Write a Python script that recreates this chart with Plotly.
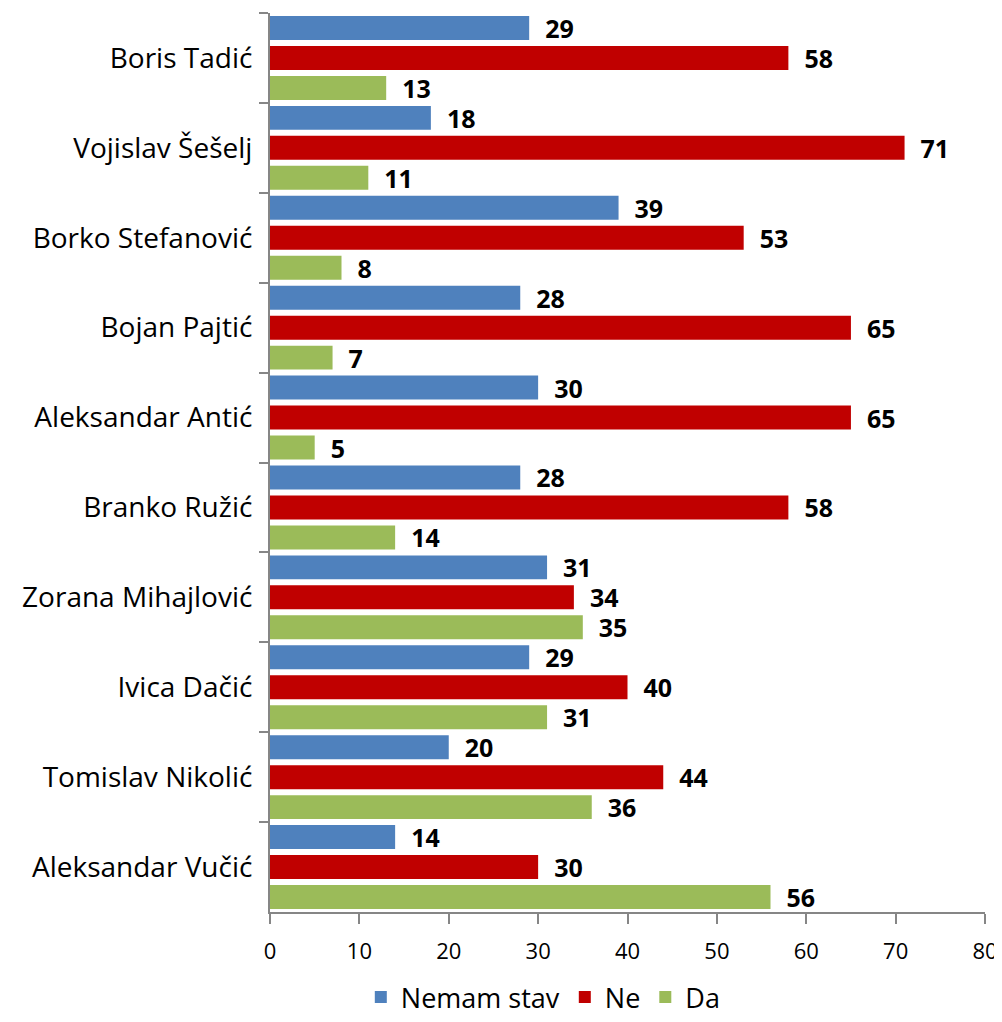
import plotly.graph_objects as go

candidates = ["Boris Tadić", "Vojislav Šešelj", "Borko Stefanović", "Bojan Pajtić",
              "Aleksandar Antić", "Branko Ružić", "Zorana Mihajlović", "Ivica Dačić",
              "Tomislav Nikolić", "Aleksandar Vučić"]
nemam_stav = [29, 18, 39, 28, 30, 28, 31, 29, 20, 14]
ne = [58, 71, 53, 65, 65, 58, 34, 40, 44, 30]
da = [13, 11, 8, 7, 5, 14, 35, 31, 36, 56]

series = [("Nemam stav", nemam_stav, "#4F81BD"),
          ("Ne", ne, "#C00000"),
          ("Da", da, "#9BBB59")]

fig = go.Figure()
for name, vals, color in series:
    fig.add_trace(go.Bar(
        y=candidates, x=vals, name=name, orientation="h",
        marker=dict(color=color, line=dict(width=0)),
        texttemplate="\u00a0\u00a0%{x}", textposition="outside",
        constraintext="none",
        textfont=dict(size=25, color="black", family="Open Sans", weight="bold"),
        cliponaxis=False,
    ))

# page body has an 8px default margin, so the figure is sized to fit
fig.update_layout(
    barmode="group", bargap=0.0, bargroupgap=0.2,
    width=994, height=1014,
    margin=dict(l=262, r=17, t=5, b=110),
    plot_bgcolor="white", paper_bgcolor="white",
    font=dict(family="Open Sans", color="black"),
    legend=dict(orientation="h", x=0.127, xanchor="left", yref="container",
                y=0.0, yanchor="bottom", font=dict(size=27), traceorder="normal",
                itemwidth=30),
)
fig.update_xaxes(range=[0, 80], dtick=10, showgrid=False, zeroline=False,
                 showline=True, linecolor="#868686", linewidth=2,
                 ticks="outside", ticklen=10, tickcolor="#868686", tickwidth=2,
                 tickfont=dict(size=22), ticklabelstandoff=9)
fig.update_yaxes(autorange="reversed", showgrid=False, showline=True,
                 linecolor="#868686", linewidth=2, ticks="outside", ticklen=9,
                 tickcolor="#868686", tickwidth=2, tickson="boundaries",
                 tickfont=dict(size=28), ticklabelstandoff=10)

fig.write_html("out.html")
